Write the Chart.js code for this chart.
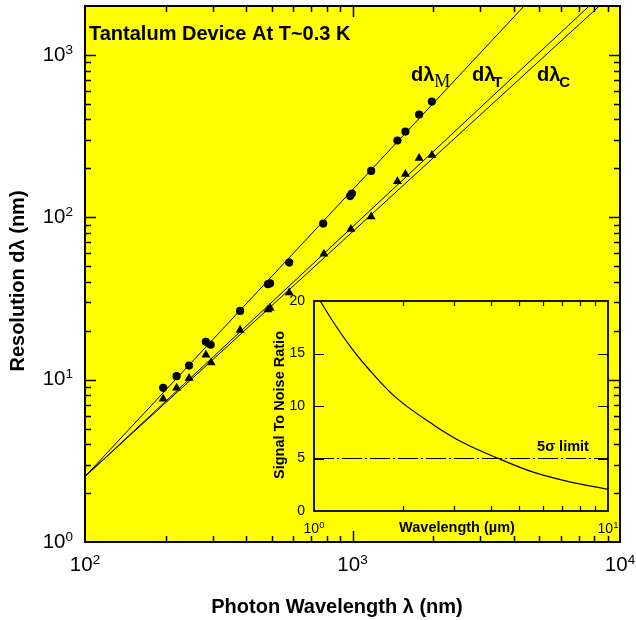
<!DOCTYPE html>
<html>
<head>
<meta charset="utf-8">
<script src="https://cdn.jsdelivr.net/npm/chart.js@4.4.0/dist/chart.umd.min.js"></script>
<style>
  body { margin: 0; background: #fff; }
  #wrap { position: relative; width: 636px; height: 620px; }
  #mainChart { position: absolute; left: 0; top: 0; }
  #insetChart { position: absolute; left: 250px; top: 290px; }
</style>
</head>
<body>
<div id="wrap">
  <canvas id="mainChart" width="636" height="620"></canvas>
  <canvas id="insetChart" width="370" height="250"></canvas>
</div>
<script>
// measured dλ_M (circles), wavelength in nm, resolution in nm
const circleWavelength = [196, 220, 245, 283, 295, 380, 483, 492, 580, 777, 980, 995, 1174, 1472, 1577, 1774, 1980];
const circleResolution = [8.9, 10.5, 12.2, 17.1, 16.4, 26.5, 38.7, 39.2, 52.6, 91.4, 135, 140, 193, 297, 337, 429, 516];

// measured triangles
const triWavelength = [196, 220, 245, 283, 296, 380, 483, 492, 580, 782, 986, 1174, 1472, 1577, 1774, 1980];
const triResolution = [7.6, 8.9, 10.2, 14.2, 12.7, 20.2, 27.0, 27.6, 34.3, 59.5, 84.4, 100.9, 166, 184, 231, 241];

// model lines (end points)
const lineMWavelength = [100, 4380];
const lineMResolution = [2.53, 2000];
const lineTWavelength = [100, 7670];
const lineTResolution = [2.53, 2000];
const lineCWavelength = [100, 8370];
const lineCResolution = [2.53, 2000];

// inset: signal to noise vs wavelength (µm)
const snrWavelength = [1.05, 1.163, 1.33, 1.51, 1.91, 2.55, 3.22, 4.24, 5.57, 7.23, 10];
const snrValues = [20, 18.0, 15.65, 13.74, 10.75, 8.2, 6.5, 5.0, 3.7, 2.85, 2.07];
const limitWavelength = [1, 10];
const limitValues = [5, 5];

// axis ticks
const mainXDecades = [100, 1000, 10000];
const mainXExp = ['2', '3', '4'];
const mainYDecades = [1, 10, 100, 1000];
const mainYExp = ['0', '1', '2', '3'];
const insetXDecades = [1, 10];
const insetXExp = ['0', '1'];
const insetYTicks = [0, 5, 10, 15, 20];

const YELLOW = '#ffff00';
const FONT = '"Liberation Sans", Arial, sans-serif';
const SERIF = '"Liberation Serif", "Times New Roman", serif';

Chart.defaults.font.family = FONT;

const pts = (xs, ys) => xs.map((x, i) => ({ x, y: ys[i] }));

function minorTicks(decades) {
    const out = [];
    decades.forEach(d => { for (let k = 2; k <= 9; k++) out.push(d * k); });
    return out;
}

function drawTicks(chart, axisId, values, len) {
    const ctx = chart.ctx;
    const s = chart.scales[axisId];
    const a = chart.chartArea;
    ctx.beginPath();
    values.forEach(v => {
        if (v <= s.min || v >= s.max) return;
        const p = Math.round(s.getPixelForValue(v)) + 0.5;
        if (s.isHorizontal()) {
            ctx.moveTo(p, a.bottom); ctx.lineTo(p, a.bottom - len);
            ctx.moveTo(p, a.top); ctx.lineTo(p, a.top + len);
        } else {
            ctx.moveTo(a.left, p); ctx.lineTo(a.left + len, p);
            ctx.moveTo(a.right, p); ctx.lineTo(a.right - len, p);
        }
    });
    ctx.stroke();
}

function drawPow(ctx, exp, x, y, align, big, small, dy) {
    ctx.textBaseline = 'middle';
    ctx.textAlign = 'left';
    ctx.font = big + 'px ' + FONT;
    const wb = ctx.measureText('10').width;
    ctx.font = small + 'px ' + FONT;
    const we = ctx.measureText(exp).width;
    const x0 = align === 'center' ? x - (wb + we) / 2 : x - wb - we;
    ctx.font = big + 'px ' + FONT;
    ctx.fillText('10', x0, y);
    ctx.font = small + 'px ' + FONT;
    ctx.fillText(exp, x0 + wb, y - dy);
}

function fillArea(chart) {
    const a = chart.chartArea;
    chart.ctx.save();
    chart.ctx.fillStyle = YELLOW;
    chart.ctx.fillRect(a.left, a.top, a.right - a.left, a.bottom - a.top);
    chart.ctx.restore();
}

function drawSub(ctx, x, y, sub, subFont, dx, dy) {
    ctx.textAlign = 'left';
    ctx.textBaseline = 'alphabetic';
    ctx.font = 'bold 20px ' + FONT;
    ctx.fillText('dλ', x, y);
    const w = ctx.measureText('dλ').width;
    ctx.font = subFont;
    ctx.fillText(sub, x + w + dx, y + dy);
}

const mainDecor = {
    id: 'mainDecor',
    beforeDraw: fillArea,
    afterDraw(chart) {
        const ctx = chart.ctx;
        const a = chart.chartArea;
        const xs = chart.scales.x, ys = chart.scales.y;
        ctx.save();
        ctx.strokeStyle = '#000';
        ctx.fillStyle = '#000';
        ctx.lineWidth = 1.5;
        drawTicks(chart, 'x', mainXDecades, 11);
        drawTicks(chart, 'x', minorTicks(mainXDecades), 6);
        drawTicks(chart, 'y', mainYDecades, 11);
        drawTicks(chart, 'y', minorTicks(mainYDecades), 6);
        ctx.lineWidth = 2;
        ctx.strokeRect(a.left, a.top, a.right - a.left, a.bottom - a.top);

        mainXDecades.forEach((v, i) => drawPow(ctx, mainXExp[i], xs.getPixelForValue(v), 565, 'center', 20.5, 13.5, 5));
        mainYDecades.forEach((v, i) => drawPow(ctx, mainYExp[i], 73, ys.getPixelForValue(v), 'right', 20.5, 13.5, 5));

        ctx.font = 'bold 20px ' + FONT;
        ctx.textAlign = 'center';
        ctx.textBaseline = 'middle';
        ctx.fillText('Photon Wavelength λ (nm)', 337, 607);
        ctx.save();
        ctx.translate(18, 281);
        ctx.rotate(-Math.PI / 2);
        ctx.fillText('Resolution dλ (nm)', 0, 0);
        ctx.restore();

        ctx.textAlign = 'left';
        ctx.fillText('Tantalum Device At T~0.3 K', 89, 34);

        drawSub(ctx, 411, 81, 'M', '18px ' + SERIF, 0, 6);
        drawSub(ctx, 472, 81, 'T', 'bold 15px ' + FONT, -2, 6);
        drawSub(ctx, 537, 81, 'C', 'bold 15px ' + FONT, -1, 6);
        ctx.restore();
    }
};

const insetDecor = {
    id: 'insetDecor',
    beforeDraw: fillArea,
    afterDraw(chart) {
        const ctx = chart.ctx;
        const a = chart.chartArea;
        const xs = chart.scales.x, ys = chart.scales.y;
        ctx.save();
        ctx.strokeStyle = '#000';
        ctx.fillStyle = '#000';
        ctx.lineWidth = 1.2;
        drawTicks(chart, 'x', minorTicks([1]), 5);
        drawTicks(chart, 'y', insetYTicks, 10);
        ctx.lineWidth = 1.8;
        ctx.strokeRect(a.left, a.top, a.right - a.left, a.bottom - a.top);

        ctx.font = '14px ' + FONT;
        ctx.textAlign = 'right';
        ctx.textBaseline = 'middle';
        insetYTicks.forEach(v => ctx.fillText(String(v), 55, ys.getPixelForValue(v)));
        insetXDecades.forEach((v, i) => drawPow(ctx, insetXExp[i], xs.getPixelForValue(v), 239, 'center', 14, 9.5, 4));

        ctx.font = 'bold 14.5px ' + FONT;
        ctx.textAlign = 'center';
        ctx.textBaseline = 'middle';
        ctx.fillText('Wavelength (µm)', 207, 238);
        ctx.fillText('5σ limit', 313, 157);
        ctx.save();
        ctx.translate(30, 115);
        ctx.rotate(-Math.PI / 2);
        ctx.fillText('Signal To Noise Ratio', 0, 0);
        ctx.restore();
        ctx.restore();
    }
};

const lineStyle = { showLine: true, borderColor: '#000', borderWidth: 1, pointRadius: 0, fill: false };

new Chart(document.getElementById('mainChart'), {
    type: 'scatter',
    data: {
        datasets: [
            { ...lineStyle, data: pts(lineMWavelength, lineMResolution) },
            { ...lineStyle, data: pts(lineTWavelength, lineTResolution) },
            { ...lineStyle, data: pts(lineCWavelength, lineCResolution) },
            {
                data: pts(circleWavelength, circleResolution),
                pointStyle: 'circle', pointRadius: 4.1,
                backgroundColor: '#000', borderColor: '#000', borderWidth: 0
            },
            {
                data: pts(triWavelength, triResolution),
                pointStyle: 'triangle', pointRadius: 5.2,
                backgroundColor: '#000', borderColor: '#000', borderWidth: 0
            }
        ]
    },
    options: {
        responsive: false,
        animation: false,
        devicePixelRatio: 1,
        layout: { padding: { top: 6, right: 16, left: 0, bottom: 0 } },
        plugins: { legend: { display: false }, tooltip: { enabled: false } },
        scales: {
            x: {
                type: 'logarithmic', min: 100, max: 10000,
                ticks: { display: false }, grid: { display: false }, border: { display: false },
                afterFit: s => { s.height = 78; }
            },
            y: {
                type: 'logarithmic', min: 1, max: 2000,
                ticks: { display: false }, grid: { display: false }, border: { display: false },
                afterFit: s => { s.width = 85; }
            }
        }
    },
    plugins: [mainDecor]
});

new Chart(document.getElementById('insetChart'), {
    type: 'scatter',
    data: {
        datasets: [
            { ...lineStyle, borderWidth: 1.2, tension: 0.35, data: pts(snrWavelength, snrValues) },
            { ...lineStyle, borderWidth: 1.2, borderDash: [20, 3, 2, 3], data: pts(limitWavelength, limitValues) }
        ]
    },
    options: {
        responsive: false,
        animation: false,
        devicePixelRatio: 1,
        layout: { padding: { top: 11, right: 12, left: 0, bottom: 0 } },
        plugins: { legend: { display: false }, tooltip: { enabled: false } },
        scales: {
            x: {
                type: 'logarithmic', min: 1, max: 10,
                ticks: { display: false }, grid: { display: false }, border: { display: false },
                afterFit: s => { s.height = 29; }
            },
            y: {
                type: 'linear', min: 0, max: 20,
                ticks: { display: false }, grid: { display: false }, border: { display: false },
                afterFit: s => { s.width = 64; }
            }
        }
    },
    plugins: [insetDecor]
});
</script>
</body>
</html>
